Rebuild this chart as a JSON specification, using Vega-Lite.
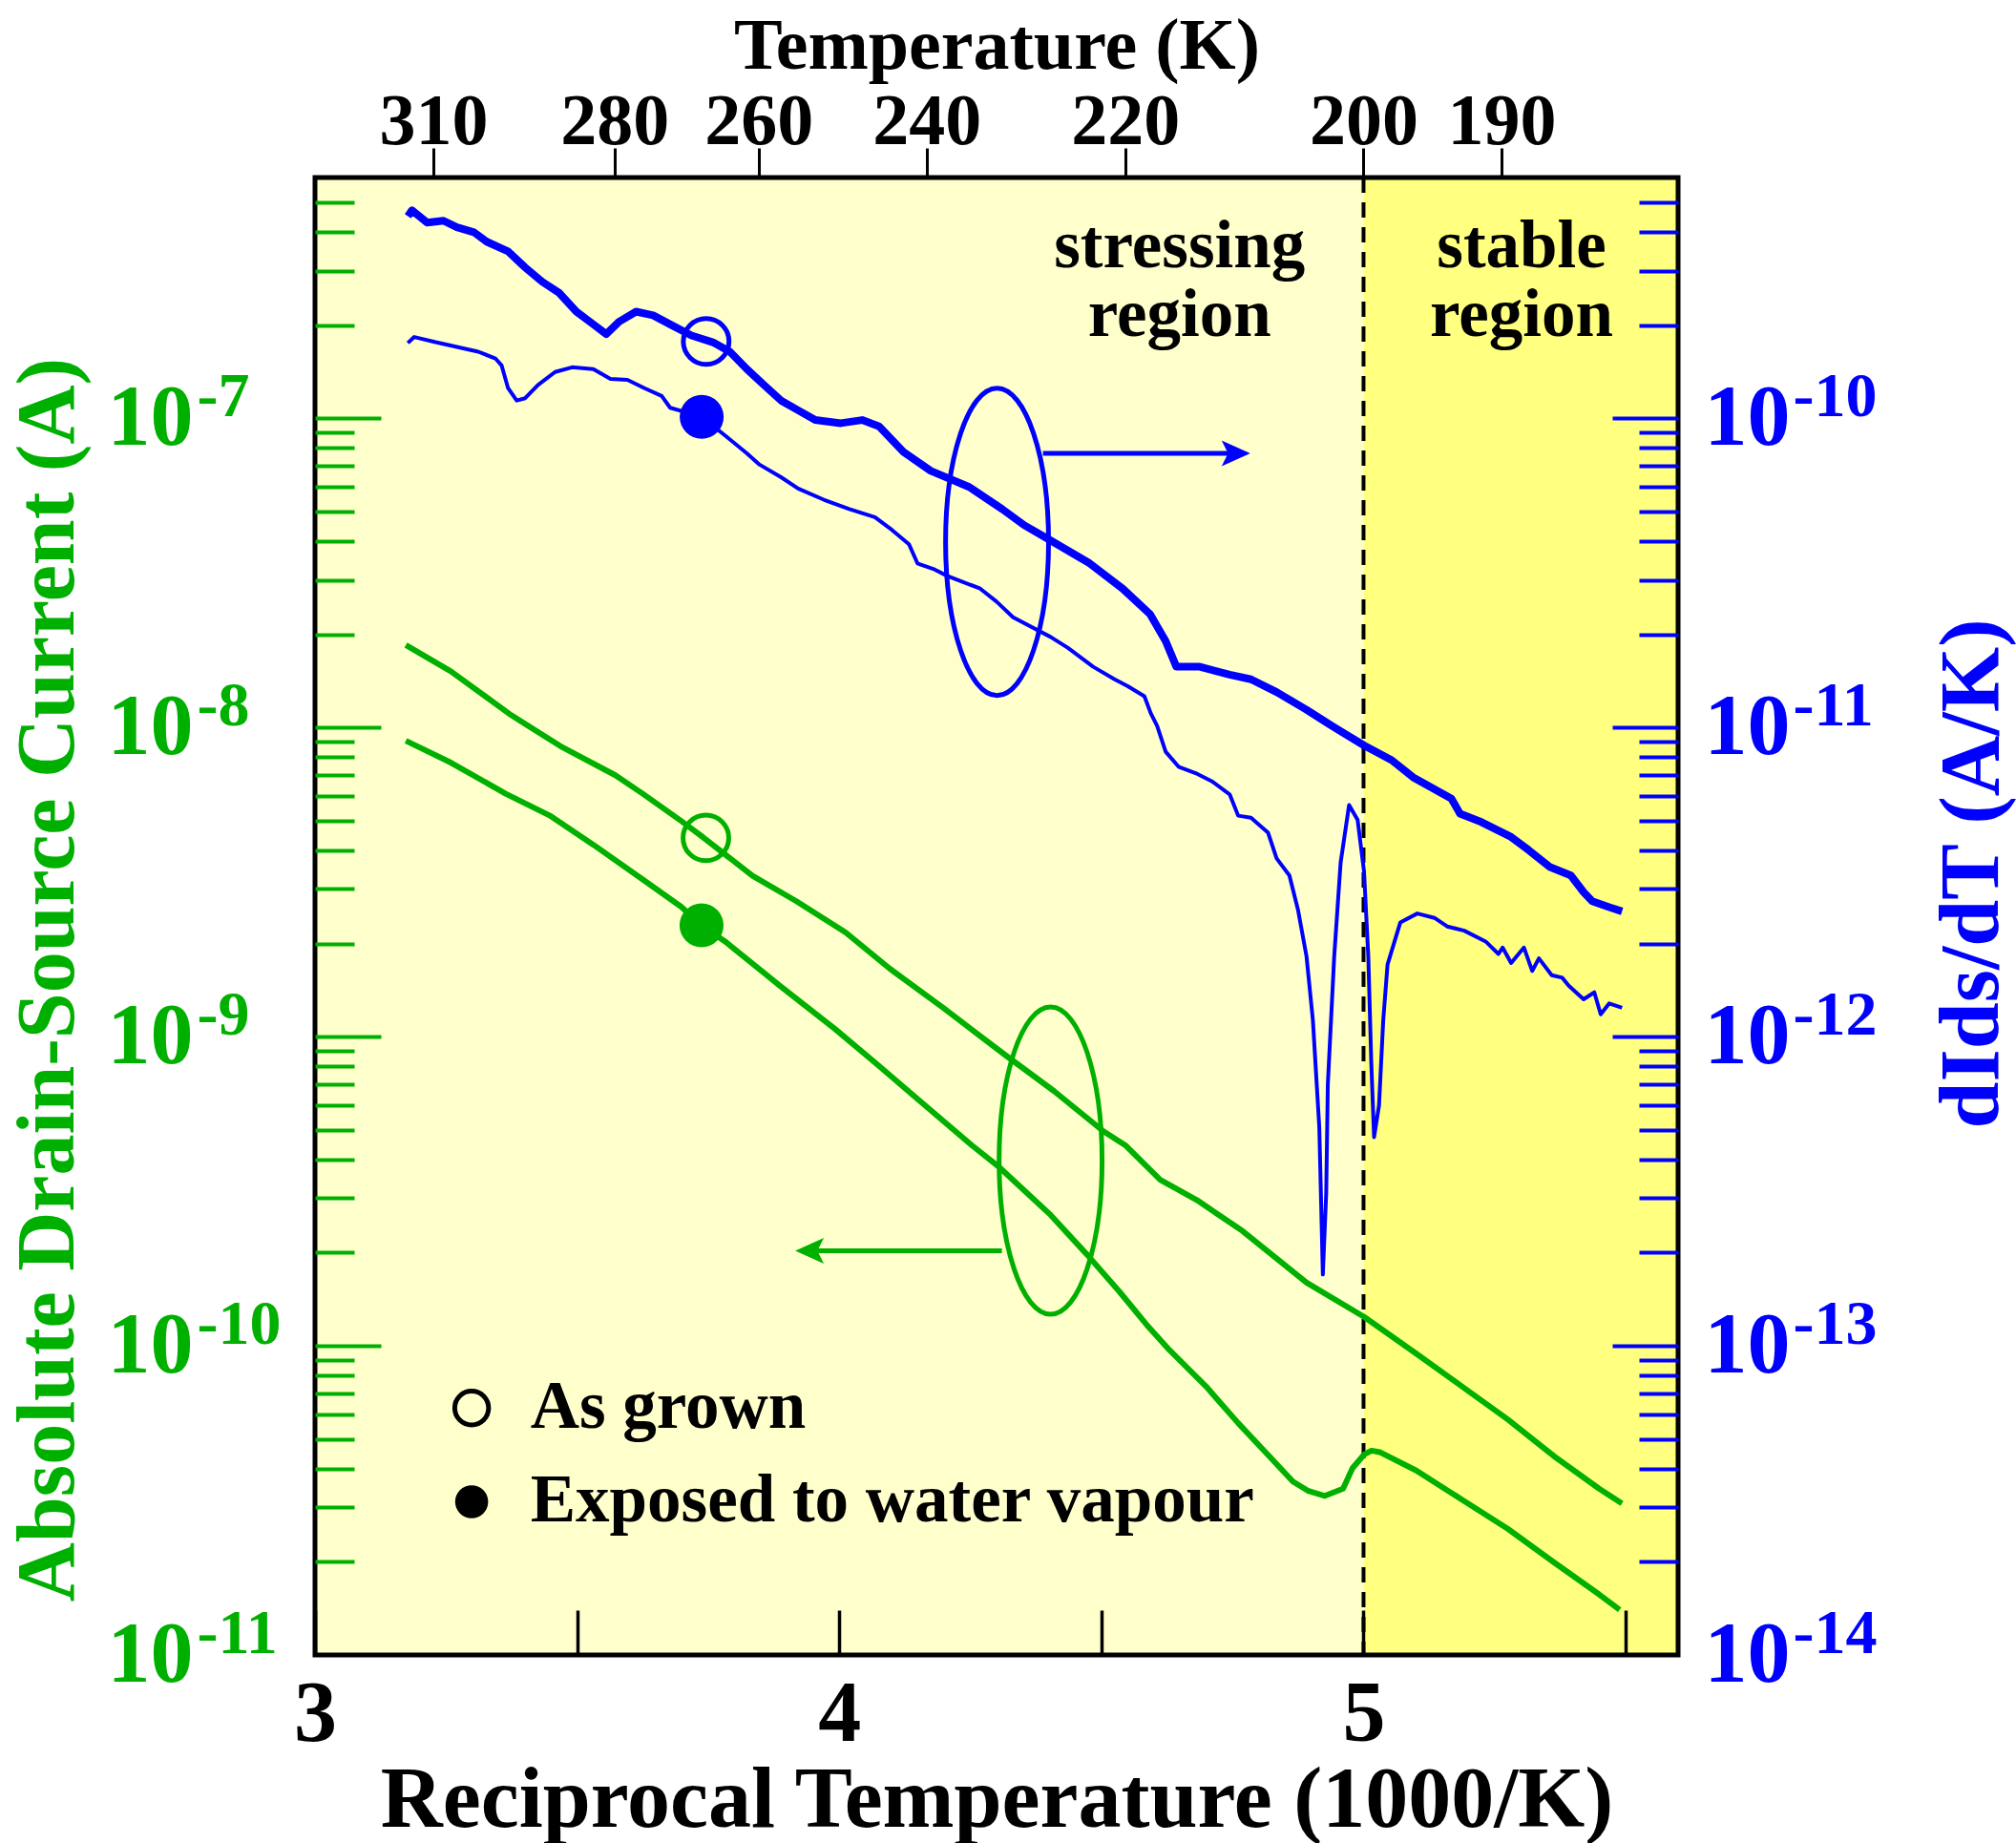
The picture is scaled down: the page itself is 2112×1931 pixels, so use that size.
{
  "$schema": "https://vega.github.io/schema/vega-lite/v6.json",
  "width": 1428,
  "height": 1548,
  "autosize": {"type": "none"},
  "padding": {"left": 330, "top": 186, "right": 354, "bottom": 197},
  "background": "white",
  "config": {
    "font": "Liberation Serif",
    "view": {"stroke": null},
    "axis": {
      "grid": false, "domain": false, "labelFlush": false, "labelOverlap": false, "labelBound": false,
      "labelFontWeight": "bold", "titleFontWeight": "bold",
      "labelFont": "Liberation Serif", "titleFont": "Liberation Serif"
    }
  },
  "datasets": {
    "regions": [{"x": 3, "x2": 5, "region": "stressing"}, {"x": 5, "x2": 5.6, "region": "stable"}],
    "divider": [{"x": 5}],
    "frame": [{"x": 3, "x2": 5.6}],
    "greenGrown": [
      {"x":3.1733,"y":1.845e-8},{"x":3.2591,"y":1.517e-8},{"x":3.3743,"y":1.095e-8},{"x":3.4683,"y":8.69e-9},{"x":3.5729,"y":7.00e-9},{"x":3.6252,"y":6.10e-9},{"x":3.6984,"y":4.98e-9},{"x":3.7403,"y":4.41e-9},{"x":3.8346,"y":3.31e-9},{"x":3.9182,"y":2.74e-9},{"x":4.0122,"y":2.17e-9},{"x":4.0960,"y":1.66e-9},{"x":4.2006,"y":1.23e-9},{"x":4.3156,"y":8.74e-10},{"x":4.4098,"y":6.66e-10},{"x":4.5038,"y":4.94e-10},{"x":4.5457,"y":4.45e-10},{"x":4.6122,"y":3.44e-10},{"x":4.6820,"y":2.96e-10},{"x":4.7693,"y":2.35e-10},{"x":4.8914,"y":1.60e-10},{"x":5.0011,"y":1.24e-10},{"x":5.1006,"y":9.43e-11},{"x":5.1877,"y":7.39e-11},{"x":5.2750,"y":5.78e-11},{"x":5.3621,"y":4.41e-11},{"x":5.4494,"y":3.45e-11},{"x":5.4929,"y":3.09e-11}
    ],
    "greenExposed": [
      {"x":3.1733,"y":9.05e-9},{"x":3.2591,"y":7.69e-9},{"x":3.3637,"y":6.10e-9},{"x":3.4473,"y":5.19e-9},{"x":3.5312,"y":4.17e-9},{"x":3.6252,"y":3.22e-9},{"x":3.6984,"y":2.63e-9},{"x":3.7373,"y":2.29e-9},{"x":3.7823,"y":2.03e-9},{"x":3.8868,"y":1.46e-9},{"x":3.9914,"y":1.06e-9},{"x":4.0751,"y":8.05e-10},{"x":4.1483,"y":6.30e-10},{"x":4.2529,"y":4.45e-10},{"x":4.3052,"y":3.78e-10},{"x":4.4031,"y":2.65e-10},{"x":4.4728,"y":1.97e-10},{"x":4.5339,"y":1.50e-10},{"x":4.5862,"y":1.17e-10},{"x":4.6297,"y":9.69e-11},{"x":4.6995,"y":7.39e-11},{"x":4.7606,"y":5.63e-11},{"x":4.8129,"y":4.53e-11},{"x":4.8652,"y":3.64e-11},{"x":4.8950,"y":3.39e-11},{"x":4.9262,"y":3.27e-11},{"x":4.9610,"y":3.45e-11},{"x":4.979,"y":4.02e-11},{"x":5.0011,"y":4.45e-11},{"x":5.0153,"y":4.58e-11},{"x":5.0308,"y":4.53e-11},{"x":5.1006,"y":3.95e-11},{"x":5.1877,"y":3.18e-11},{"x":5.2750,"y":2.56e-11},{"x":5.3621,"y":2.00e-11},{"x":5.4494,"y":1.57e-11},{"x":5.4885,"y":1.40e-11}
    ],
    "blueGrown": [
      {"x":3.1771,"y":4.5e-10},{"x":3.1850,"y":4.7e-10},{"x":3.2137,"y":4.29e-10},{"x":3.2450,"y":4.35e-10},{"x":3.2708,"y":4.14e-10},{"x":3.3032,"y":3.99e-10},{"x":3.3276,"y":3.72e-10},{"x":3.3683,"y":3.46e-10},{"x":3.4009,"y":3.07e-10},{"x":3.4335,"y":2.76e-10},{"x":3.4659,"y":2.54e-10},{"x":3.4985,"y":2.21e-10},{"x":3.5310,"y":2.01e-10},{"x":3.5554,"y":1.87e-10},{"x":3.5798,"y":2.05e-10},{"x":3.6124,"y":2.21e-10},{"x":3.6449,"y":2.15e-10},{"x":3.6775,"y":2.01e-10},{"x":3.7181,"y":1.85e-10},{"x":3.7587,"y":1.76e-10},{"x":3.7914,"y":1.64e-10},{"x":3.8238,"y":1.44e-10},{"x":3.8564,"y":1.28e-10},{"x":3.8890,"y":1.14e-10},{"x":3.9215,"y":1.06e-10},{"x":3.9541,"y":9.86e-11},{"x":4.0029,"y":9.63e-11},{"x":4.0436,"y":9.86e-11},{"x":4.0760,"y":9.40e-11},{"x":4.1224,"y":7.78e-11},{"x":4.1746,"y":6.75e-11},{"x":4.2478,"y":5.99e-11},{"x":4.3107,"y":5.08e-11},{"x":4.3524,"y":4.51e-11},{"x":4.4047,"y":4.01e-11},{"x":4.4778,"y":3.39e-11},{"x":4.5406,"y":2.81e-11},{"x":4.5931,"y":2.32e-11},{"x":4.6226,"y":1.90e-11},{"x":4.6430,"y":1.57e-11},{"x":4.6879,"y":1.57e-11},{"x":4.7447,"y":1.48e-11},{"x":4.7853,"y":1.43e-11},{"x":4.8342,"y":1.30e-11},{"x":4.8912,"y":1.14e-11},{"x":4.9399,"y":1.01e-11},{"x":5.0009,"y":8.74e-12},{"x":5.0538,"y":7.83e-12},{"x":5.0946,"y":6.89e-12},{"x":5.1676,"y":5.88e-12},{"x":5.1840,"y":5.26e-12},{"x":5.2247,"y":4.94e-12},{"x":5.2815,"y":4.42e-12},{"x":5.3141,"y":4.02e-12},{"x":5.3548,"y":3.54e-12},{"x":5.3954,"y":3.32e-12},{"x":5.4198,"y":2.93e-12},{"x":5.4362,"y":2.74e-12},{"x":5.4687,"y":2.62e-12},{"x":5.4931,"y":2.54e-12}
    ],
    "blueExposed": [
      {"x":3.1771,"y":1.75e-10},{"x":3.1893,"y":1.83e-10},{"x":3.2301,"y":1.76e-10},{"x":3.2708,"y":1.70e-10},{"x":3.3114,"y":1.64e-10},{"x":3.3440,"y":1.56e-10},{"x":3.3560,"y":1.48e-10},{"x":3.3683,"y":1.25e-10},{"x":3.3847,"y":1.14e-10},{"x":3.4009,"y":1.16e-10},{"x":3.4253,"y":1.28e-10},{"x":3.4579,"y":1.41e-10},{"x":3.4903,"y":1.46e-10},{"x":3.5310,"y":1.44e-10},{"x":3.5636,"y":1.34e-10},{"x":3.5960,"y":1.33e-10},{"x":3.6286,"y":1.25e-10},{"x":3.6613,"y":1.18e-10},{"x":3.6775,"y":1.08e-10},{"x":3.7376,"y":1.01e-10},{"x":3.7832,"y":8.76e-11},{"x":3.8238,"y":7.69e-11},{"x":3.8482,"y":7.07e-11},{"x":3.8890,"y":6.44e-11},{"x":3.9215,"y":5.92e-11},{"x":3.9703,"y":5.45e-11},{"x":4.0191,"y":5.08e-11},{"x":4.0680,"y":4.78e-11},{"x":4.1004,"y":4.35e-11},{"x":4.1330,"y":3.91e-11},{"x":4.1492,"y":3.39e-11},{"x":4.1819,"y":3.24e-11},{"x":4.2059,"y":3.09e-11},{"x":4.2688,"y":2.81e-11},{"x":4.3001,"y":2.55e-11},{"x":4.3315,"y":2.27e-11},{"x":4.4031,"y":1.96e-11},{"x":4.4357,"y":1.81e-11},{"x":4.4844,"y":1.57e-11},{"x":4.5252,"y":1.43e-11},{"x":4.5496,"y":1.36e-11},{"x":4.5820,"y":1.26e-11},{"x":4.5942,"y":1.11e-11},{"x":4.6064,"y":1.01e-11},{"x":4.6226,"y":8.34e-12},{"x":4.6471,"y":7.46e-12},{"x":4.6797,"y":7.11e-12},{"x":4.7121,"y":6.67e-12},{"x":4.7447,"y":6.07e-12},{"x":4.7609,"y":5.18e-12},{"x":4.7853,"y":5.10e-12},{"x":4.8180,"y":4.56e-12},{"x":4.8342,"y":3.77e-12},{"x":4.8586,"y":3.32e-12},{"x":4.8748,"y":2.58e-12},{"x":4.8912,"y":1.82e-12},{"x":4.9034,"y":1.13e-12},{"x":4.9156,"y":5.10e-13},{"x":4.9224,"y":1.70e-13},{"x":4.9288,"y":3.11e-13},{"x":4.9319,"y":7.01e-13},{"x":4.9441,"y":1.82e-12},{"x":4.9563,"y":3.65e-12},{"x":4.9725,"y":5.61e-12},{"x":4.9887,"y":5.02e-12},{"x":5.0009,"y":3.43e-12},{"x":5.0091,"y":1.82e-12},{"x":5.0148,"y":8.22e-13},{"x":5.0201,"y":4.73e-13},{"x":5.0295,"y":5.98e-13},{"x":5.0376,"y":1.13e-12},{"x":5.0458,"y":1.71e-12},{"x":5.0702,"y":2.34e-12},{"x":5.1026,"y":2.50e-12},{"x":5.1352,"y":2.42e-12},{"x":5.1596,"y":2.27e-12},{"x":5.1921,"y":2.20e-12},{"x":5.2329,"y":2.03e-12},{"x":5.2573,"y":1.85e-12},{"x":5.2653,"y":1.94e-12},{"x":5.2815,"y":1.73e-12},{"x":5.3060,"y":1.94e-12},{"x":5.3218,"y":1.63e-12},{"x":5.3345,"y":1.79e-12},{"x":5.3589,"y":1.58e-12},{"x":5.3791,"y":1.55e-12},{"x":5.3914,"y":1.46e-12},{"x":5.4198,"y":1.32e-12},{"x":5.4402,"y":1.39e-12},{"x":5.4524,"y":1.18e-12},{"x":5.4687,"y":1.28e-12},{"x":5.4931,"y":1.24e-12}
    ],
    "greenOpen": [{"x": 3.7456, "y": 4.39e-9}],
    "greenFilled": [{"x": 3.7373, "y": 2.29e-9}],
    "blueOpen": [{"x": 3.7461, "y": 1.77e-10}],
    "blueFilled": [{"x": 3.7376, "y": 1.01e-10}],
    "greenEllipse": [{"x": 4.4031, "y": 3.97e-10}],
    "blueEllipse": [{"x": 4.3010, "y": 3.98e-11}],
    "greenArrow": [{"x": 3.94, "x2": 4.3101, "y": 2.03e-10}],
    "greenHead": [{"x": 3.9433, "y": 2.03e-10}],
    "blueArrow": [{"x": 4.3885, "x2": 4.77, "y": 7.69e-11}],
    "blueHead": [{"x": 4.7566, "y": 7.69e-11}],
    "legendOpen": [{"x": 3.2988, "y": 6.29e-11}],
    "legendFilled": [{"x": 3.2988, "y": 3.13e-11}],
    "legendText": [{"x": 3.4109, "y": 5.41e-11, "t": "As grown"}, {"x": 3.4109, "y": 2.70e-11, "t": "Exposed to water vapour"}],
    "regionText": [{"x": 4.6491, "y": 3.07e-7, "t": "stressing"}, {"x": 4.6491, "y": 1.85e-7, "t": "region"}, {"x": 5.3014, "y": 3.07e-7, "t": "stable"}, {"x": 5.3014, "y": 1.85e-7, "t": "region"}]
  },
  "resolve": {"scale": {"y": "independent"}, "axis": {"x": "independent", "y": "independent"}},
  "layer": [
    {
      "data": {"name": "regions"},
      "mark": {"type": "rect"},
      "encoding": {
        "x": {"field": "x", "type": "quantitative", "scale": {"domain": [3, 5.6], "nice": false, "zero": false}, "axis": null},
        "x2": {"field": "x2"},
        "color": {"field": "region", "type": "nominal", "scale": {"domain": ["stressing", "stable"], "range": ["#FFFFCC", "#FFFF80"]}, "legend": null}
      }
    },
    {
      "data": {"name": "divider"},
      "mark": {"type": "rule", "strokeDash": [16, 10], "strokeWidth": 4, "color": "black"},
      "encoding": {
        "x": {"field": "x", "type": "quantitative", "scale": {"domain": [3, 5.6], "nice": false, "zero": false},
              "axis": {"orient": "top", "zindex": 1, "values": [3.225806, 3.571429, 3.846154, 4.166667, 4.545455, 5, 5.263158],
                       "labelExpr": "format(1000/datum.value, '.0f')", "tickSize": 31, "tickWidth": 3, "tickColor": "black",
                       "labelPadding": 5, "labelBaseline": "alphabetic", "labelFontSize": 76, "labelColor": "black",
                       "title": "Temperature (K)", "titleFontSize": 76, "titleColor": "black", "titleBaseline": "alphabetic", "titleY": -115}}
      }
    },
    {
      "data": {"name": "greenGrown"},
      "mark": {"type": "line", "color": "#00b000", "strokeWidth": 6, "strokeJoin": "round"},
      "encoding": {
        "x": {"field": "x", "type": "quantitative", "scale": {"domain": [3, 5.6], "nice": false, "zero": false}, "axis": null},
        "y": {"field": "y", "type": "quantitative", "scale": {"type": "log", "domain": [1e-11, 6e-7], "nice": false},
              "axis": {"orient": "left", "zindex": 1, "values": [1e-10, 1e-9, 1e-8, 1e-7], "labels": false, "tickSize": -69, "tickWidth": 4, "tickColor": "#00b000",
                       "title": "Absolute Drain-Source Current (A)", "titleFontSize": 86, "titleColor": "#00b000", "titleAngle": 270,
                       "titleX": -254, "titleY": 840, "titleAlign": "center", "titleBaseline": "alphabetic"}}
      }
    },
    {
      "data": {"name": "greenExposed"},
      "mark": {"type": "line", "color": "#00b000", "strokeWidth": 6, "strokeJoin": "round"},
      "encoding": {
        "x": {"field": "x", "type": "quantitative", "scale": {"domain": [3, 5.6], "nice": false, "zero": false}, "axis": null},
        "y": {"field": "y", "type": "quantitative", "scale": {"type": "log", "domain": [1e-11, 6e-7], "nice": false},
              "axis": {"orient": "left", "zindex": 1, "values": [2e-11,3e-11,4e-11,5e-11,6e-11,7e-11,8e-11,9e-11,2e-10,3e-10,4e-10,5e-10,6e-10,7e-10,8e-10,9e-10,2e-9,3e-9,4e-9,5e-9,6e-9,7e-9,8e-9,9e-9,2e-8,3e-8,4e-8,5e-8,6e-8,7e-8,8e-8,9e-8,2e-7,3e-7,4e-7,5e-7],
                       "labels": false, "tickSize": -41, "tickWidth": 4, "tickColor": "#00b000", "title": null}}
      }
    },
    {
      "data": {"name": "blueGrown"},
      "mark": {"type": "line", "color": "#0000ff", "strokeWidth": 8, "strokeJoin": "round"},
      "encoding": {
        "x": {"field": "x", "type": "quantitative", "scale": {"domain": [3, 5.6], "nice": false, "zero": false}, "axis": null},
        "y": {"field": "y", "type": "quantitative", "scale": {"type": "log", "domain": [1e-14, 6e-10], "nice": false},
              "axis": {"orient": "right", "zindex": 1, "values": [1e-13, 1e-12, 1e-11, 1e-10], "labels": false, "tickSize": -69, "tickWidth": 4, "tickColor": "#0000ff",
                       "title": "dIds/dT (A/K)", "titleFontSize": 88, "titleColor": "#0000ff", "titleAngle": 270,
                       "titleX": 334, "titleY": 729, "titleAlign": "center", "titleBaseline": "alphabetic"}}
      }
    },
    {
      "data": {"name": "blueExposed"},
      "mark": {"type": "line", "color": "#0000ff", "strokeWidth": 4, "strokeJoin": "round"},
      "encoding": {
        "x": {"field": "x", "type": "quantitative", "scale": {"domain": [3, 5.6], "nice": false, "zero": false}, "axis": null},
        "y": {"field": "y", "type": "quantitative", "scale": {"type": "log", "domain": [1e-14, 6e-10], "nice": false},
              "axis": {"orient": "right", "zindex": 1, "values": [2e-14,3e-14,4e-14,5e-14,6e-14,7e-14,8e-14,9e-14,2e-13,3e-13,4e-13,5e-13,6e-13,7e-13,8e-13,9e-13,2e-12,3e-12,4e-12,5e-12,6e-12,7e-12,8e-12,9e-12,2e-11,3e-11,4e-11,5e-11,6e-11,7e-11,8e-11,9e-11,2e-10,3e-10,4e-10,5e-10],
                       "labels": false, "tickSize": -41, "tickWidth": 4, "tickColor": "#0000ff", "title": null}}
      }
    },
    {
      "data": {"name": "greenOpen"},
      "mark": {"type": "point", "shape": "circle", "filled": false, "color": "#00b000", "strokeWidth": 5, "size": 2290, "opacity": 1},
      "encoding": {
        "x": {"field": "x", "type": "quantitative", "scale": {"domain": [3, 5.6], "nice": false, "zero": false}, "axis": null},
        "y": {"field": "y", "type": "quantitative", "scale": {"type": "log", "domain": [1e-11, 6e-7], "nice": false},
              "axis": {"orient": "left", "zindex": 1, "values": [1e-11, 1e-10, 1e-9, 1e-8, 1e-7], "ticks": false, "labelExpr": "'10'",
                       "labelAlign": "left", "labelBaseline": "middle", "labelPadding": 218, "labelFontSize": 90, "labelColor": "#00b000", "title": null}}
      }
    },
    {
      "data": {"name": "greenFilled"},
      "mark": {"type": "point", "shape": "circle", "filled": true, "color": "#00b000", "size": 2124, "opacity": 1},
      "encoding": {
        "x": {"field": "x", "type": "quantitative", "scale": {"domain": [3, 5.6], "nice": false, "zero": false}, "axis": null},
        "y": {"field": "y", "type": "quantitative", "scale": {"type": "log", "domain": [1e-11, 6e-7], "nice": false},
              "axis": {"orient": "left", "zindex": 1, "values": [1e-11, 1e-10, 1e-9, 1e-8, 1e-7], "ticks": false,
                       "labelExpr": "'-' + format(-round(log(datum.value)/LN10), 'd')",
                       "labelAlign": "left", "labelBaseline": "alphabetic", "labelPadding": 124, "labelOffset": -3, "labelFontSize": 66, "labelColor": "#00b000", "title": null}}
      }
    },
    {
      "data": {"name": "blueOpen"},
      "mark": {"type": "point", "shape": "circle", "filled": false, "color": "#0000ff", "strokeWidth": 5, "size": 2290, "opacity": 1},
      "encoding": {
        "x": {"field": "x", "type": "quantitative", "scale": {"domain": [3, 5.6], "nice": false, "zero": false}, "axis": null},
        "y": {"field": "y", "type": "quantitative", "scale": {"type": "log", "domain": [1e-14, 6e-10], "nice": false},
              "axis": {"orient": "right", "zindex": 1, "values": [1e-14, 1e-13, 1e-12, 1e-11, 1e-10], "ticks": false, "labelExpr": "'10'",
                       "labelAlign": "left", "labelBaseline": "middle", "labelPadding": 27, "labelFontSize": 90, "labelColor": "#0000ff", "title": null}}
      }
    },
    {
      "data": {"name": "blueFilled"},
      "mark": {"type": "point", "shape": "circle", "filled": true, "color": "#0000ff", "size": 2124, "opacity": 1},
      "encoding": {
        "x": {"field": "x", "type": "quantitative", "scale": {"domain": [3, 5.6], "nice": false, "zero": false}, "axis": null},
        "y": {"field": "y", "type": "quantitative", "scale": {"type": "log", "domain": [1e-14, 6e-10], "nice": false},
              "axis": {"orient": "right", "zindex": 1, "values": [1e-14, 1e-13, 1e-12, 1e-11, 1e-10], "ticks": false,
                       "labelExpr": "'-' + format(-round(log(datum.value)/LN10), 'd')",
                       "labelAlign": "left", "labelBaseline": "alphabetic", "labelPadding": 120, "labelOffset": -3, "labelFontSize": 66, "labelColor": "#0000ff", "title": null}}
      }
    },
    {
      "data": {"name": "greenEllipse"},
      "mark": {"type": "point", "shape": "M0,-1A0.335,1,0,1,1,0,1A0.335,1,0,1,1,0,-1Z", "filled": false, "color": "#00b000", "strokeWidth": 5, "size": 103684, "opacity": 1},
      "encoding": {
        "x": {"field": "x", "type": "quantitative", "scale": {"domain": [3, 5.6], "nice": false, "zero": false}, "axis": null},
        "y": {"field": "y", "type": "quantitative", "scale": {"type": "log", "domain": [1e-11, 6e-7], "nice": false}, "axis": null}
      }
    },
    {
      "data": {"name": "blueEllipse"},
      "mark": {"type": "point", "shape": "M0,-1A0.335,1,0,1,1,0,1A0.335,1,0,1,1,0,-1Z", "filled": false, "color": "#0000ff", "strokeWidth": 5, "size": 103684, "opacity": 1},
      "encoding": {
        "x": {"field": "x", "type": "quantitative", "scale": {"domain": [3, 5.6], "nice": false, "zero": false}, "axis": null},
        "y": {"field": "y", "type": "quantitative", "scale": {"type": "log", "domain": [1e-14, 6e-10], "nice": false}, "axis": null}
      }
    },
    {
      "data": {"name": "greenArrow"},
      "mark": {"type": "rule", "color": "#00b000", "strokeWidth": 5},
      "encoding": {
        "x": {"field": "x", "type": "quantitative", "scale": {"domain": [3, 5.6], "nice": false, "zero": false}, "axis": null},
        "x2": {"field": "x2"},
        "y": {"field": "y", "type": "quantitative", "scale": {"type": "log", "domain": [1e-11, 6e-7], "nice": false}, "axis": null}
      }
    },
    {
      "data": {"name": "greenHead"},
      "mark": {"type": "point", "shape": "M-1,0L1,-0.9L0.55,0L1,0.9Z", "filled": true, "color": "#00b000", "size": 900, "opacity": 1},
      "encoding": {
        "x": {"field": "x", "type": "quantitative", "scale": {"domain": [3, 5.6], "nice": false, "zero": false}, "axis": null},
        "y": {"field": "y", "type": "quantitative", "scale": {"type": "log", "domain": [1e-11, 6e-7], "nice": false}, "axis": null}
      }
    },
    {
      "data": {"name": "blueArrow"},
      "mark": {"type": "rule", "color": "#0000ff", "strokeWidth": 5},
      "encoding": {
        "x": {"field": "x", "type": "quantitative", "scale": {"domain": [3, 5.6], "nice": false, "zero": false}, "axis": null},
        "x2": {"field": "x2"},
        "y": {"field": "y", "type": "quantitative", "scale": {"type": "log", "domain": [1e-14, 6e-10], "nice": false}, "axis": null}
      }
    },
    {
      "data": {"name": "blueHead"},
      "mark": {"type": "point", "shape": "M1,0L-1,-0.9L-0.55,0L-1,0.9Z", "filled": true, "color": "#0000ff", "size": 900, "opacity": 1},
      "encoding": {
        "x": {"field": "x", "type": "quantitative", "scale": {"domain": [3, 5.6], "nice": false, "zero": false}, "axis": null},
        "y": {"field": "y", "type": "quantitative", "scale": {"type": "log", "domain": [1e-14, 6e-10], "nice": false}, "axis": null}
      }
    },
    {
      "data": {"name": "legendOpen"},
      "mark": {"type": "point", "shape": "circle", "filled": false, "color": "black", "strokeWidth": 5, "size": 1257, "opacity": 1},
      "encoding": {
        "x": {"field": "x", "type": "quantitative", "scale": {"domain": [3, 5.6], "nice": false, "zero": false}, "axis": null},
        "y": {"field": "y", "type": "quantitative", "scale": {"type": "log", "domain": [1e-11, 6e-7], "nice": false}, "axis": null}
      }
    },
    {
      "data": {"name": "legendFilled"},
      "mark": {"type": "point", "shape": "circle", "filled": true, "color": "black", "size": 1195, "opacity": 1},
      "encoding": {
        "x": {"field": "x", "type": "quantitative", "scale": {"domain": [3, 5.6], "nice": false, "zero": false}, "axis": null},
        "y": {"field": "y", "type": "quantitative", "scale": {"type": "log", "domain": [1e-11, 6e-7], "nice": false}, "axis": null}
      }
    },
    {
      "data": {"name": "legendText"},
      "mark": {"type": "text", "font": "Liberation Serif", "fontWeight": "bold", "fontSize": 71, "align": "left", "baseline": "alphabetic", "color": "black"},
      "encoding": {
        "x": {"field": "x", "type": "quantitative", "scale": {"domain": [3, 5.6], "nice": false, "zero": false}, "axis": null},
        "y": {"field": "y", "type": "quantitative", "scale": {"type": "log", "domain": [1e-11, 6e-7], "nice": false}, "axis": null},
        "text": {"field": "t"}
      }
    },
    {
      "data": {"name": "regionText"},
      "mark": {"type": "text", "font": "Liberation Serif", "fontWeight": "bold", "fontSize": 71, "align": "center", "baseline": "alphabetic", "color": "black"},
      "encoding": {
        "x": {"field": "x", "type": "quantitative", "scale": {"domain": [3, 5.6], "nice": false, "zero": false}, "axis": null},
        "y": {"field": "y", "type": "quantitative", "scale": {"type": "log", "domain": [1e-11, 6e-7], "nice": false}, "axis": null},
        "text": {"field": "t"}
      }
    },
    {
      "data": {"name": "frame"},
      "mark": {"type": "rect", "filled": false, "stroke": "black", "strokeWidth": 5},
      "encoding": {
        "x": {"field": "x", "type": "quantitative", "scale": {"domain": [3, 5.6], "nice": false, "zero": false},
              "axis": {"orient": "bottom", "zindex": 1, "values": [3, 3.5, 4, 4.5, 5, 5.5], "labelExpr": "datum.value % 1 == 0 ? format(datum.value, 'd') : ''",
                       "tickSize": -47, "tickWidth": 3.5, "tickColor": "black", "labelPadding": 65, "labelBaseline": "top",
                       "labelFontSize": 90, "labelColor": "black",
                       "title": "Reciprocal Temperature (1000/K)", "titleFontSize": 90, "titleColor": "black", "titleBaseline": "alphabetic", "titleY": 179}},
        "x2": {"field": "x2"}
      }
    }
  ]
}
